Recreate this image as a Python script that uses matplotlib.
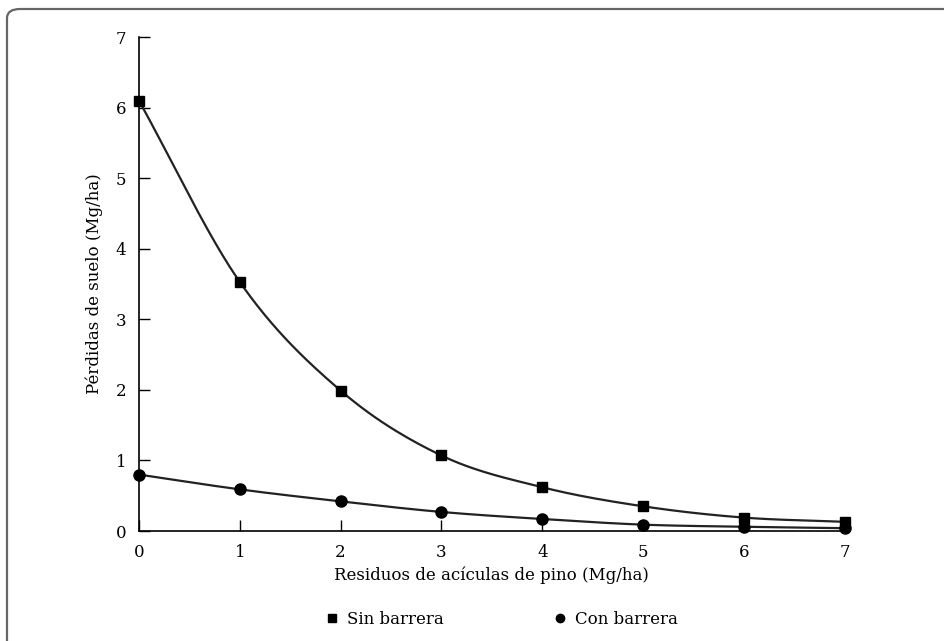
import numpy as np
import matplotlib
matplotlib.use("Agg")
import matplotlib.pyplot as plt
from matplotlib.patches import FancyBboxPatch

# datos
residuos = [0, 1, 2, 3, 4, 5, 6, 7]
sin_barrera = [6.10, 3.53, 1.99, 1.07, 0.62, 0.35, 0.19, 0.13]
con_barrera = [0.80, 0.59, 0.42, 0.27, 0.17, 0.09, 0.06, 0.04]
ticks = [0, 1, 2, 3, 4, 5, 6, 7]


def suavizar(x, y, n=30):
    # curva catmull-rom entre los puntos
    x = np.asarray(x, float)
    y = np.asarray(y, float)
    px = np.concatenate([[2 * x[0] - x[1]], x, [2 * x[-1] - x[-2]]])
    py = np.concatenate([[2 * y[0] - y[1]], y, [2 * y[-1] - y[-2]]])
    xs, ys = [], []
    t = np.linspace(0, 1, n)
    for i in range(1, len(px) - 2):
        for p, out in ((px, xs), (py, ys)):
            p0, p1, p2, p3 = p[i - 1], p[i], p[i + 1], p[i + 2]
            out.extend(0.5 * (2 * p1 + (-p0 + p2) * t
                              + (2 * p0 - 5 * p1 + 4 * p2 - p3) * t ** 2
                              + (-p0 + 3 * p1 - 3 * p2 + p3) * t ** 3))
    return np.array(xs), np.array(ys)


plt.rcParams['font.family'] = ['DejaVu Serif']
fig = plt.figure(figsize=(9.45, 6.41), dpi=100)

marco = FancyBboxPatch((7 / 945, 1 - 9 / 641 - 1.2), 1.2, 1.2,
                       boxstyle="round,pad=0,rounding_size=0.014",
                       transform=fig.transFigure, facecolor='white',
                       edgecolor='#666666', linewidth=1.6, zorder=-1)
fig.patches.append(marco)

ax = fig.add_axes([0.147, 0.1716, 0.747, 0.7706])
ax.patch.set_alpha(0)

xs, ys = suavizar(residuos, sin_barrera)
ax.plot(xs, ys, color='#222222', lw=1.6, zorder=2)
xs, ys = suavizar(residuos, con_barrera)
ax.plot(xs, ys, color='#222222', lw=1.6, zorder=2)

ax.plot(residuos, sin_barrera, 's', color='black', ms=7.5, zorder=3)
ax.plot(residuos, con_barrera, 'o', color='black', ms=8, zorder=3)

ax.set_xlim(0, 7)
ax.set_ylim(0, 7)
ax.set_xticks(ticks)
ax.set_yticks(ticks)
ax.spines['top'].set_visible(False)
ax.spines['right'].set_visible(False)
for s in ('left', 'bottom'):
    ax.spines[s].set_linewidth(1.2)
ax.tick_params(direction='in', length=8, width=1, labelsize=12, pad=9)
for l in ax.lines:
    l.set_clip_on(False)

ax.set_xlabel('Residuos de acículas de pino (Mg/ha)', fontsize=12, labelpad=4)
ax.set_ylabel('Pérdidas de suelo (Mg/ha)', fontsize=12, labelpad=9)

h1, = ax.plot([], [], 's', color='black', ms=6)
h2, = ax.plot([], [], 'o', color='black', ms=6)
fig.legend([h1, h2], ['Sin barrera', 'Con barrera'], ncol=2, frameon=False,
           loc='center', bbox_to_anchor=(0.53, 1 - 619 / 641), fontsize=12,
           handletextpad=0.4, columnspacing=6.5, handlelength=1)

fig.savefig('out.png', dpi=100)
